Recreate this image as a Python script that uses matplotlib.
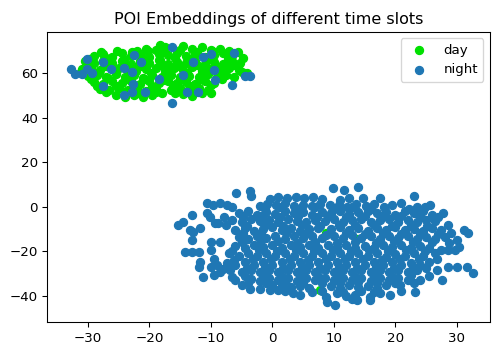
import numpy as np
import matplotlib
matplotlib.use("Agg")
import matplotlib.pyplot as plt

# t-SNE coordinates
day_upper = [
    (-22.0, 70.2), (-20.5, 71.0), (-19.0, 70.5), (-17.5, 71.8), (-14.5, 72.3), (-13.0, 71.0),
    (-11.5, 72.0), (-10.0, 70.6), (-8.5, 71.2), (-7.0, 70.0), (-18.3, 72.6),
    (-29.0, 67.8), (-27.5, 68.6), (-26.0, 67.5), (-24.5, 69.0), (-23.0, 68.0), (-21.5, 68.8),
    (-20.0, 67.6), (-18.5, 68.9), (-17.0, 68.2), (-15.5, 69.3), (-14.0, 68.0), (-12.5, 68.7),
    (-11.0, 67.4), (-9.5, 68.4), (-8.0, 69.0), (-6.5, 68.0), (-5.6, 69.6),
    (-30.5, 65.4), (-29.0, 64.5), (-27.5, 65.8), (-26.0, 64.6), (-24.5, 65.5), (-23.0, 64.2),
    (-21.5, 65.6), (-20.0, 64.8), (-18.5, 65.9), (-17.0, 64.4), (-15.5, 65.3), (-14.0, 64.6),
    (-12.5, 65.8), (-11.0, 64.3), (-9.5, 65.0), (-8.0, 64.2), (-6.5, 65.4), (-5.3, 64.6),
    (-31.0, 62.0), (-29.5, 62.6), (-28.0, 61.5), (-25.0, 62.3), (-23.5, 61.4), (-22.0, 62.7),
    (-20.5, 61.8), (-19.0, 62.5), (-17.5, 61.2), (-16.0, 62.4), (-14.5, 61.6), (-13.0, 62.8),
    (-11.5, 61.3), (-10.0, 62.2), (-8.5, 61.0), (-7.0, 62.4), (-5.5, 61.6), (-4.2, 60.3),
    (-30.0, 58.8), (-28.5, 59.4), (-27.0, 58.5), (-25.5, 59.6), (-24.0, 58.4), (-22.5, 59.2),
    (-21.0, 58.0), (-19.5, 59.5), (-18.0, 58.6), (-16.5, 59.3), (-15.0, 58.2), (-13.5, 59.0),
    (-12.0, 58.4), (-10.5, 59.6), (-9.0, 58.6), (-7.5, 59.4), (-6.2, 58.2),
    (-29.0, 56.2), (-27.5, 55.4), (-26.0, 56.5), (-24.5, 55.6), (-23.0, 56.4), (-21.5, 55.2),
    (-20.0, 56.6), (-18.5, 55.8), (-17.0, 56.8), (-15.5, 55.5), (-14.0, 56.3), (-12.5, 55.4),
    (-11.0, 56.6), (-9.5, 55.8),
    (-28.0, 53.0), (-26.5, 52.4), (-25.0, 53.4), (-23.5, 52.6), (-22.0, 53.5), (-20.5, 52.2),
    (-19.0, 53.2), (-16.5, 52.6), (-15.0, 53.6), (-13.5, 52.8), (-12.0, 53.5), (-10.5, 52.5),
    (-25.5, 50.2), (-24.0, 49.5), (-22.5, 50.4), (-21.0, 49.6), (-19.5, 50.5), (-18.0, 51.0),
    (-14.5, 50.8), (-13.0, 50.0), (-11.5, 51.2),
]
day_upper_more = [
    (-27.8, 69.8), (-25.2, 70.2), (-22.8, 69.5), (-20.2, 70.0), (-17.8, 69.6), (-15.0, 70.4),
    (-12.2, 69.7), (-9.8, 70.2), (-7.2, 69.4),
    (-29.8, 66.5), (-27.0, 66.9), (-24.2, 66.3), (-21.0, 66.8), (-18.2, 66.2), (-15.8, 66.9),
    (-13.2, 66.4), (-10.2, 66.7), (-7.2, 66.3), (-4.8, 66.8),
    (-30.2, 63.5), (-27.0, 63.2), (-24.0, 63.8), (-21.2, 63.4), (-18.0, 63.9), (-15.2, 63.3),
    (-12.2, 63.7), (-9.2, 63.4), (-6.2, 63.8),
    (-31.2, 60.5), (-28.2, 60.8), (-25.5, 60.3), (-22.2, 60.9), (-19.8, 60.4), (-16.8, 60.7),
    (-13.8, 60.2), (-11.0, 60.6), (-8.0, 60.2), (-5.0, 60.8),
    (-29.5, 57.5), (-26.8, 57.8), (-23.8, 57.3), (-20.8, 57.6), (-17.8, 57.2), (-14.8, 57.7),
    (-11.8, 57.4), (-8.2, 57.6),
    (-28.5, 54.5), (-25.5, 54.2), (-22.5, 54.7), (-19.5, 54.3), (-16.2, 54.6), (-13.0, 54.2),
    (-10.0, 54.6),
    (-27.0, 51.5), (-24.0, 51.8), (-21.8, 51.3), (-19.0, 51.7), (-15.8, 51.4), (-12.5, 51.8),
    (-10.0, 51.4),
]
day_lower = [(8.8, -11.8), (13.7, -14.7), (7.8, -37.5)]

night_upper = [
    (-32.8, 61.9), (-32.1, 59.6), (-31.0, 59.6), (-30.1, 66.4), (-30.1, 61.9), (-29.4, 60.4),
    (-27.6, 65.2), (-27.5, 54.4), (-26.3, 62.2), (-24.2, 62.5), (-24.1, 50.2), (-22.8, 60.5),
    (-22.6, 55.1), (-22.8, 51.7), (-22.5, 68.2), (-21.4, 65.2), (-20.7, 51.8), (-18.4, 57.4),
    (-16.4, 71.9), (-16.4, 46.6), (-14.5, 59.5), (-13.8, 51.7), (-12.9, 65.2), (-12.1, 51.7),
    (-11.3, 67.6), (-10.0, 68.8), (-9.5, 61.6), (-9.3, 57.1), (-6.6, 54.8), (-6.2, 69.4),
    (-4.4, 58.9), (-3.6, 58.9),
]
night_lower = [
    (-5.9, 6.3), (-3.7, 7.2), (-3.5, 4.8), (9.9, 8.3), (11.6, 7.5), (14.0, 9.0),
    (-0.4, 3.5), (1.0, 4.5), (2.4, 4.0), (3.8, 4.5), (5.2, 3.8), (6.6, 4.2), (8.0, 3.5),
    (14.8, 3.8), (17.5, 3.8), (23.1, 4.8), (11.0, 3.0), (12.5, 4.0),
    (-10.7, 1.5), (-9.6, 0.8), (-8.5, 1.5), (-7.4, 0.8), (-6.6, 0.0), (-2.0, 0.5), (-0.8, 1.2),
    (0.6, 0.8), (2.0, 1.5), (3.5, 0.5), (5.0, 1.0), (6.4, 0.2), (7.8, 1.4), (9.3, 0.6),
    (10.8, 1.0), (12.2, 0.0), (13.6, 1.4), (15.2, 0.5), (16.6, 1.2), (19.4, 0.8), (21.0, 1.8),
    (23.5, 0.0), (25.7, 0.8),
    (-10.7, -3.0), (-10.1, -4.5), (-13.1, -3.7), (-5.5, -3.0), (-4.0, -2.0), (-2.5, -3.5),
    (-1.0, -2.5), (0.5, -3.2), (2.0, -2.0), (3.5, -3.0), (5.0, -2.4), (6.5, -3.5), (8.0, -2.2),
    (9.5, -3.0), (11.0, -2.0), (12.5, -3.4), (14.0, -2.5), (15.5, -1.8), (17.0, -3.0),
    (18.5, -2.2), (20.0, -3.5), (21.5, -2.0), (23.0, -3.0), (24.5, -2.0), (26.0, -3.5),
    (27.8, -3.0),
    (-15.3, -8.2), (-14.5, -6.8), (-9.3, -7.5), (-8.8, -7.5), (-6.5, -6.0), (-5.0, -7.0),
    (-3.5, -5.5), (-2.0, -6.5), (-0.5, -5.8), (1.0, -6.8), (2.5, -5.5), (4.0, -6.2),
    (5.5, -7.0), (7.0, -5.8), (8.5, -6.6), (10.0, -5.5), (11.5, -6.8), (13.0, -6.0),
    (14.5, -5.4), (16.0, -7.0), (17.5, -6.0), (19.0, -5.5), (20.5, -6.8), (22.0, -6.0),
    (23.5, -7.0), (25.0, -5.8), (26.5, -6.5),
    (-13.4, -10.5), (-12.9, -11.3), (-11.8, -9.7), (-6.0, -10.5), (-4.5, -9.5), (-3.0, -11.0),
    (-1.5, -10.0), (0.0, -9.0), (1.5, -10.5), (3.0, -9.5), (4.5, -11.0), (6.0, -10.0),
    (7.5, -9.5), (9.5, -10.0), (11.0, -9.2), (12.5, -10.5), (14.0, -9.5), (15.5, -10.8),
    (17.0, -9.5), (18.5, -10.5), (20.0, -9.2), (21.5, -10.5), (23.0, -9.8), (24.5, -10.8),
    (26.0, -9.5), (27.5, -10.5), (31.1, -10.5),
    (-13.1, -15.0), (-9.9, -15.8), (-8.5, -15.8), (-5.5, -13.5), (-4.0, -14.5), (-2.5, -13.0),
    (-1.0, -14.2), (0.5, -13.0), (2.0, -14.5), (3.5, -13.2), (5.0, -14.0), (6.5, -13.0),
    (8.0, -14.2), (10.0, -13.0), (11.5, -14.0), (13.0, -12.5), (14.5, -14.0), (16.0, -13.0),
    (17.5, -14.5), (19.0, -13.2), (20.5, -14.0), (22.0, -13.0), (23.5, -14.5), (25.0, -13.5),
    (26.5, -14.5), (28.0, -13.5), (31.9, -12.0), (30.0, -15.0),
    (-6.0, -17.5), (-4.5, -18.5), (-3.0, -17.0), (-1.5, -18.2), (0.0, -17.0), (1.5, -18.5),
    (3.0, -17.2), (4.5, -18.0), (6.0, -17.0), (7.5, -18.5), (9.0, -17.2), (10.5, -18.0),
    (12.0, -17.0), (13.5, -18.4), (15.0, -17.5), (16.5, -18.5), (18.0, -17.2), (19.5, -18.2),
    (21.0, -17.0), (22.5, -18.5), (24.0, -17.5), (25.5, -18.5), (28.6, -19.5), (29.7, -19.5),
    (30.3, -18.0),
    (-14.2, -20.3), (-13.1, -20.3), (-12.0, -20.3), (-7.0, -21.0), (-5.5, -22.0), (-4.0, -21.0),
    (-2.5, -22.0), (-1.0, -21.0), (0.5, -22.0), (2.0, -21.0), (3.5, -22.2), (5.0, -21.0),
    (6.5, -22.0), (8.0, -21.0), (9.5, -22.0), (11.0, -21.0), (12.5, -22.2), (14.0, -21.0),
    (15.5, -22.0), (17.0, -21.0), (18.5, -22.5), (20.0, -21.2), (21.5, -22.0), (23.0, -21.0),
    (24.5, -22.0), (26.5, -21.0),
    (-11.8, -24.8), (-12.0, -27.0), (-9.0, -26.3), (-7.4, -25.5), (-6.0, -26.0), (-4.5, -25.0),
    (-3.0, -26.0), (-1.5, -25.0), (0.0, -26.0), (1.5, -25.0), (3.0, -26.2), (4.5, -25.0),
    (6.0, -26.0), (7.5, -25.0), (9.0, -26.0), (10.5, -25.0), (12.0, -26.0), (13.5, -25.0),
    (15.0, -26.2), (16.5, -25.0), (18.0, -26.0), (19.5, -25.0), (21.0, -26.0), (22.5, -25.2),
    (24.0, -26.0), (25.5, -25.0),
    (-8.0, -27.8), (-8.5, -29.3), (-6.9, -28.5), (-5.0, -29.5), (-3.5, -28.5), (-2.0, -29.5),
    (-0.5, -28.5), (1.0, -29.5), (2.5, -28.5), (4.0, -29.5), (5.5, -28.5), (7.0, -29.5),
    (8.5, -28.5), (10.0, -29.5), (11.5, -28.5), (13.0, -29.5), (14.5, -28.5), (16.0, -29.5),
    (17.5, -28.5), (19.0, -29.5), (20.5, -28.5), (22.0, -29.5), (23.5, -28.5), (26.7, -28.5),
    (30.0, -27.0), (31.6, -27.0), (32.7, -30.0),
    (-11.2, -31.5), (-6.6, -31.5), (-6.1, -33.0), (-3.5, -32.5), (-2.0, -33.5), (-0.5, -32.0),
    (1.0, -33.0), (2.5, -32.0), (4.0, -33.2), (5.5, -32.0), (7.0, -33.0), (8.5, -32.0),
    (10.0, -33.0), (11.5, -32.0), (13.0, -33.0), (14.5, -32.0), (16.0, -33.2), (17.5, -32.0),
    (19.0, -33.0), (20.5, -32.0), (22.0, -33.0), (24.0, -33.0), (27.6, -33.0),
    (-5.0, -35.3), (-3.6, -36.8), (-2.0, -36.8), (-0.4, -37.5), (1.0, -37.5), (0.0, -35.0),
    (1.5, -35.0), (3.0, -36.0), (4.5, -35.5), (6.0, -36.5), (9.5, -35.5), (11.0, -36.5),
    (12.5, -35.0), (14.0, -36.0), (15.5, -35.5), (17.0, -36.5), (18.5, -35.0), (20.8, -35.3),
    (23.2, -38.3), (3.4, -39.0), (4.5, -39.8),
    (8.8, -40.5), (10.5, -39.0), (12.0, -40.0), (13.5, -39.5), (15.9, -40.5), (17.5, -39.0),
    (19.2, -39.8), (8.9, -42.8), (10.2, -44.3), (13.0, -41.5), (13.7, -42.0), (15.9, -41.8),
]
night_lower_more = [
    (-1.2, -0.9), (1.2, -0.3), (4.2, -0.9), (7.0, -0.3), (10.0, -0.9), (13.0, -0.3),
    (16.0, -0.9), (18.2, -0.3), (22.2, -0.9), (24.8, -0.3),
    (-7.8, -4.4), (-4.7, -4.8), (-1.7, -4.2), (1.2, -4.6), (4.2, -4.2), (7.2, -4.8),
    (9.0, -4.3), (12.0, -4.7), (15.0, -4.2), (17.8, -4.6), (21.0, -4.3), (24.0, -4.8), (27.0, -4.4),
    (-7.5, -8.2), (-4.2, -8.6), (-1.2, -8.0), (1.8, -8.5), (4.8, -8.1), (7.8, -8.6),
    (10.8, -8.0), (13.5, -8.4), (16.5, -8.1), (19.5, -8.6), (22.5, -8.0), (25.2, -8.5), (28.5, -8.2),
    (-4.8, -11.9), (-1.8, -12.3), (2.2, -11.8), (5.2, -12.2), (8.8, -12.6), (12.0, -11.9),
    (15.0, -12.3), (18.0, -11.8), (21.0, -12.2), (24.0, -11.9), (27.0, -12.3), (29.0, -11.6),
    (-5.0, -15.8), (-2.0, -16.2), (1.0, -15.6), (4.0, -16.1), (7.0, -15.7), (10.5, -16.2),
    (13.5, -15.8), (16.8, -16.1), (19.8, -15.6), (22.8, -16.0), (26.0, -15.7), (28.8, -16.2),
    (-10.0, -19.6), (-6.5, -19.8), (-2.2, -19.4), (0.8, -19.9), (3.8, -19.5), (6.8, -19.9),
    (9.8, -19.5), (12.8, -19.8), (15.8, -19.4), (18.8, -19.9), (21.8, -19.5), (24.8, -19.8),
    (27.5, -19.4),
    (-9.5, -23.5), (-6.2, -23.8), (-3.2, -23.3), (-0.2, -23.7), (2.8, -23.4), (5.8, -23.8),
    (8.8, -23.3), (11.8, -23.7), (14.8, -23.4), (17.8, -23.8), (20.8, -23.3), (23.8, -23.7),
    (26.8, -23.4),
    (-10.0, -27.2), (-4.2, -27.5), (-1.2, -27.0), (1.8, -27.4), (4.8, -27.1), (7.8, -27.5),
    (10.8, -27.0), (13.8, -27.4), (16.8, -27.1), (19.8, -27.5), (22.8, -27.0), (25.0, -27.4),
    (28.5, -27.2),
    (-9.5, -30.8), (-4.5, -31.1), (-1.5, -30.6), (1.5, -31.0), (4.5, -30.7), (7.5, -31.1),
    (10.5, -30.6), (13.5, -31.0), (16.5, -30.7), (19.5, -31.1), (22.5, -30.6), (25.5, -31.0),
    (-4.0, -34.2), (-1.0, -34.5), (2.0, -34.0), (5.0, -34.4), (8.0, -34.1), (11.0, -34.5),
    (14.0, -34.0), (17.0, -34.4), (20.0, -34.1), (23.0, -34.4),
    (2.0, -38.0), (6.5, -38.3), (8.0, -37.8), (11.5, -38.2), (14.5, -37.9), (16.5, -38.3),
    (21.0, -37.8),
]

day = np.array(day_upper + day_upper_more + day_lower)
night = np.array(night_upper + night_lower + night_lower_more)

fig = plt.figure(figsize=(493 / 96, 348 / 96), dpi=96)
ax = fig.add_axes([47.3 / 493, 25.7 / 348, 442.7 / 493, 290.6 / 348])

ax.scatter(day[:, 0], day[:, 1], c="#00e000", label="day")
ax.scatter(night[:, 0], night[:, 1], c="#1f77b4", label="night")

ax.set_xlim(-36.6, 35.4)
ax.set_ylim(-52, 78.8)
ax.set_xticks([-30, -20, -10, 0, 10, 20, 30])
ax.set_yticks([-40, -20, 0, 20, 40, 60])
ax.set_title("POI Embeddings of different time slots", fontsize=12)
ax.legend(loc="upper right")

fig.savefig("out.png", dpi=96)
